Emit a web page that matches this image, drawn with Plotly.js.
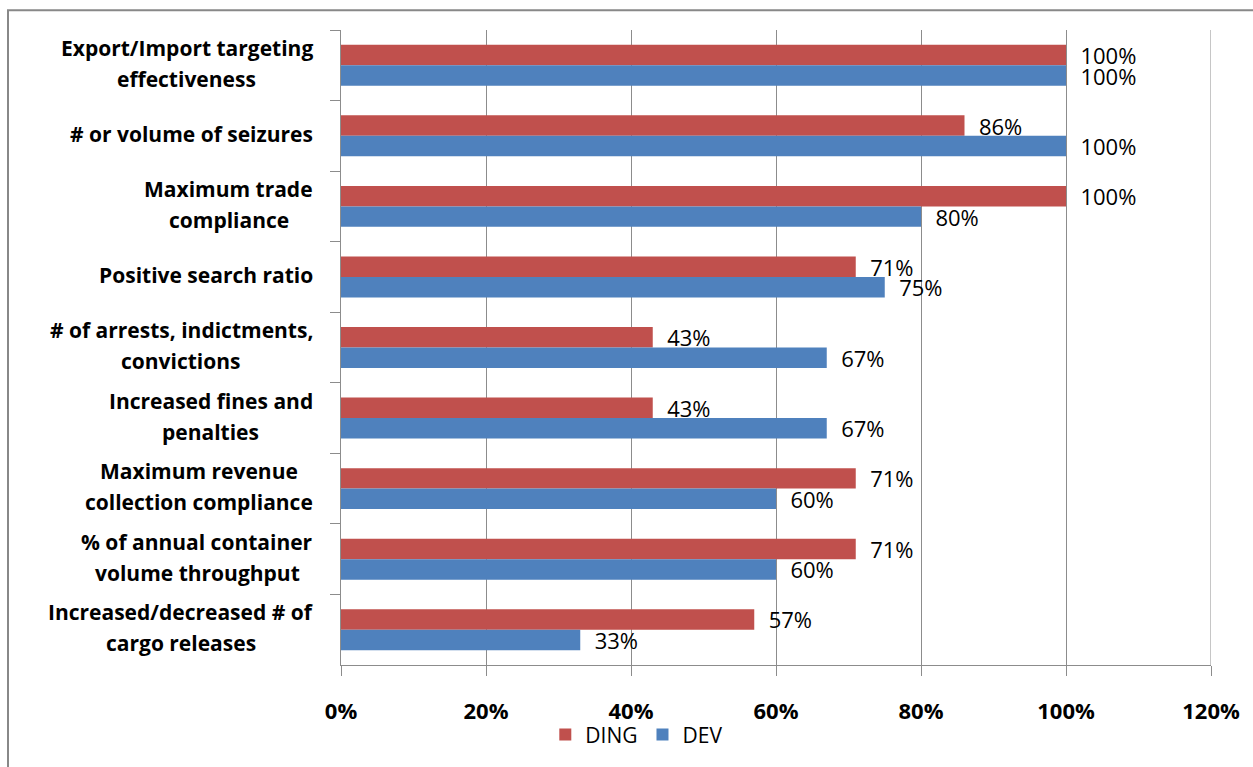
<!DOCTYPE html>
<html>
<head>
<meta charset="utf-8">
<script src="https://cdn.plot.ly/plotly-3.0.1.min.js"></script>
<style>html,body{margin:0;padding:0;background:#fff;}#chart{width:1253px;height:767px;}</style>
</head>
<body>
<div id="chart"></div>
<script>
const categories = [
  "Export/Import targeting<br>effectiveness",
  "# or volume of seizures",
  "Maximum trade<br>compliance",
  "Positive search ratio",
  "# of arrests, indictments,<br>convictions",
  "Increased fines and<br>penalties",
  "Maximum revenue<br>collection compliance",
  "% of annual container<br>volume throughput",
  "Increased/decreased # of<br>cargo releases"
];
const dingValues = [1.00, 0.86, 1.00, 0.71, 0.43, 0.43, 0.71, 0.71, 0.57];
const devValues  = [1.00, 1.00, 0.80, 0.75, 0.67, 0.67, 0.60, 0.60, 0.33];
const xTickVals = [0, 0.2, 0.4, 0.6, 0.8, 1.0, 1.2];
const xTickText = ["0%", "20%", "40%", "60%", "80%", "100%", "120%"];

const FONT = "'Open Sans', sans-serif";
const CAT_SIZE = 21;
const pad = "\u00a0\u00a0";
function pctLabels(vals){ return vals.map(v => pad + Math.round(v*100) + "%"); }

const traces = [
  {type:"bar", orientation:"h", name:"DING", y:categories, x:dingValues,
   marker:{color:"#C0504D"}, text:pctLabels(dingValues), textposition:"outside",
   textfont:{family:FONT, size:22, color:"#000"}, constraintext:"none", cliponaxis:false, hoverinfo:"skip"},
  {type:"bar", orientation:"h", name:"DEV", y:categories, x:devValues,
   marker:{color:"#4F81BD"}, text:pctLabels(devValues), textposition:"outside",
   textfont:{family:FONT, size:22, color:"#000"}, constraintext:"none", cliponaxis:false, hoverinfo:"skip"}
];

// Measure text to center multi-line category labels as a right-aligned block
const ctx = document.createElement("canvas").getContext("2d");
ctx.font = "bold " + CAT_SIZE + "px 'Open Sans'";
const PLOT_L = 341, PLOT_W = 870, LABEL_RIGHT = 313;

const annotations = [];
categories.forEach(c => {
  const lines = c.split("<br>");
  const n = lines.length;
  const maxW = Math.max(...lines.map(l => ctx.measureText(l).width));
  const cx = LABEL_RIGHT - maxW/2;
  lines.forEach((ln, i) => {
    annotations.push({
      xref:"paper", yref:"y", x:(cx - PLOT_L)/PLOT_W, y:c, xanchor:"center", yanchor:"middle",
      text:"<b>"+ln+"</b>", showarrow:false, align:"center",
      yshift:((n-1)/2 - i)*31 + 2,
      font:{family:FONT, size:CAT_SIZE, color:"#000"}
    });
  });
});

const layout = {
  width:1253, height:767,
  margin:{l:341, r:42, t:30, b:98},
  paper_bgcolor:"#fff", plot_bgcolor:"#fff",
  barmode:"group", bargap:0.42, bargroupgap:0,
  showlegend:true,
  legend:{orientation:"h", x:0.34, xanchor:"center", y:-0.11, yanchor:"middle",
          bgcolor:"rgba(0,0,0,0)", traceorder:"normal",
          font:{family:FONT, size:21, color:"#000"}},
  xaxis:{range:[0,1.2], tickvals:xTickVals,
         ticktext:xTickText.map(t=>"<b>"+t+"</b>"),
         showgrid:true, gridcolor:"#8c8c8c", gridwidth:1,
         showline:true, linecolor:"#8c8c8c", linewidth:1,
         ticks:"outside", ticklen:10, tickcolor:"#8c8c8c",
         ticklabelstandoff:17, zeroline:false, fixedrange:true,
         tickfont:{family:FONT, size:22, color:"#000"}},
  yaxis:{type:"category", autorange:"reversed", showticklabels:false,
         showline:true, linecolor:"#8c8c8c", linewidth:1,
         ticks:"outside", ticklen:10, tickcolor:"#8c8c8c", tickson:"boundaries",
         showgrid:false, zeroline:false, fixedrange:true},
  annotations:annotations,
  shapes:[
    {type:"rect", xref:"paper", yref:"paper",
     x0:(8-341)/870, x1:(1265-341)/870, y0:(669-780)/639, y1:(669-10)/639,
     line:{color:"#888888", width:2}, fillcolor:"rgba(0,0,0,0)", layer:"below"},
    {type:"line", xref:"x", yref:"paper", x0:xTickVals[xTickVals.length-1], x1:xTickVals[xTickVals.length-1],
     y0:0, y1:1, line:{color:"#8c8c8c", width:1}, layer:"below"}
  ],
  font:{family:FONT}
};

Plotly.newPlot("chart", traces, layout, {staticPlot:true, displayModeBar:false});
</script>
</body>
</html>
